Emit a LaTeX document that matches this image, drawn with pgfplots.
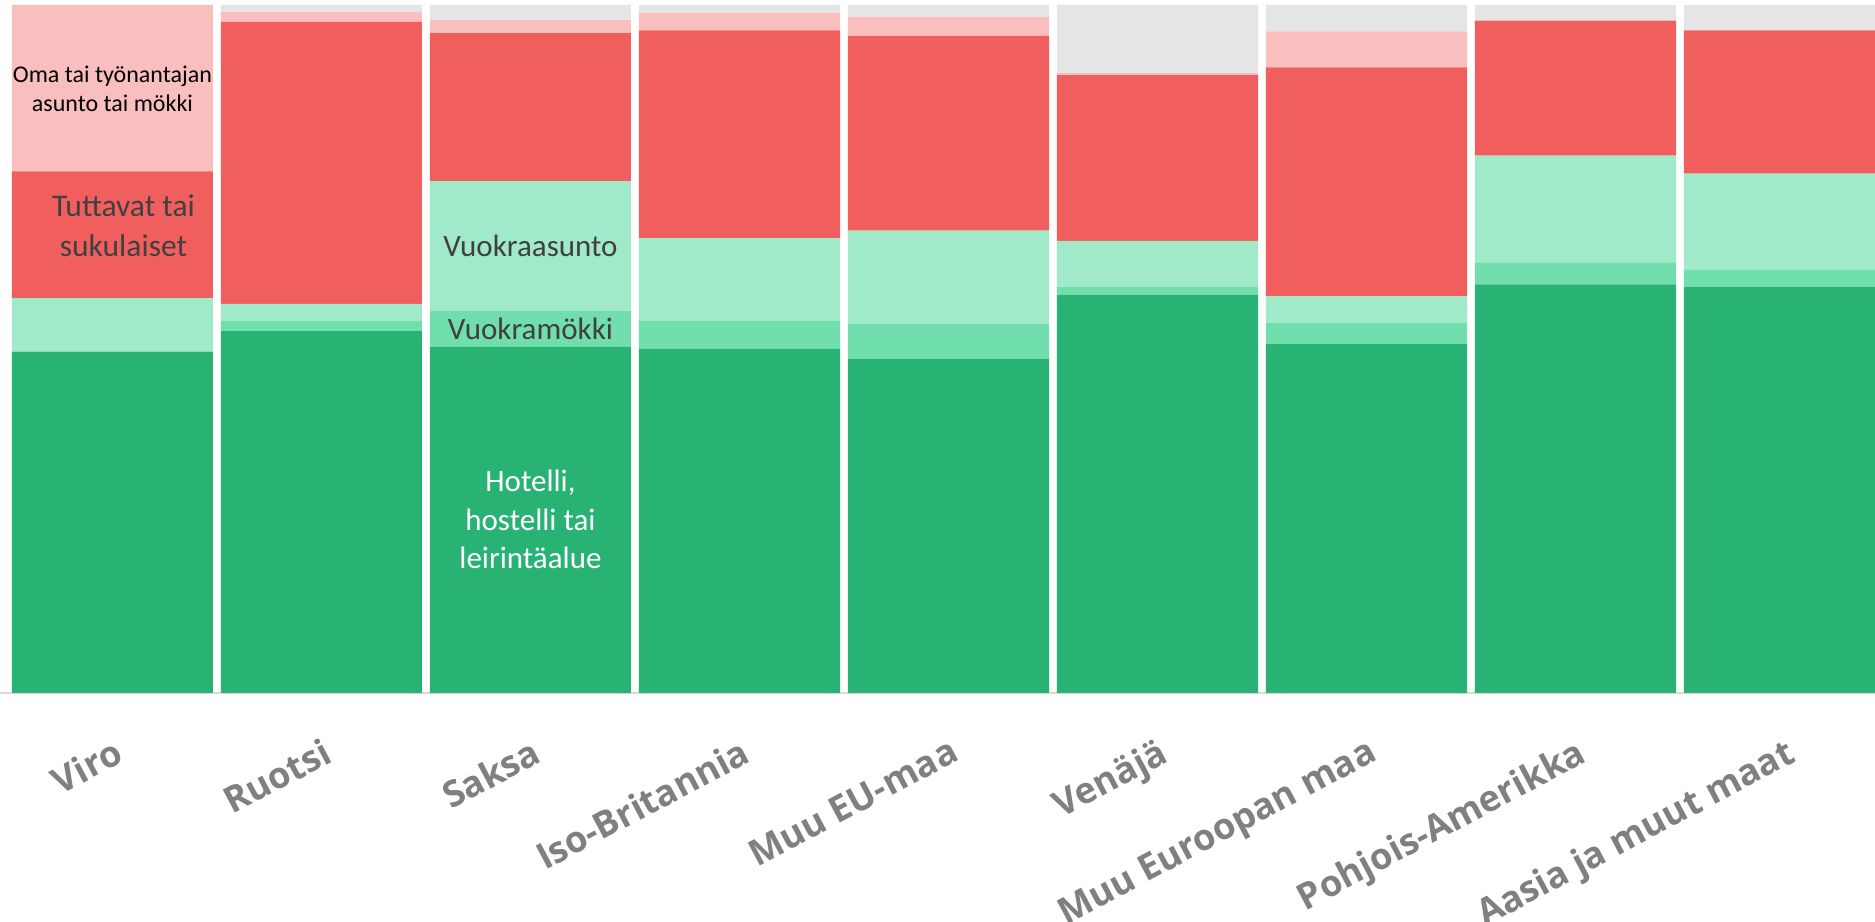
\documentclass[border=0pt]{standalone}
\usepackage{fontspec}
\setmainfont{Carlito}
\newfontfamily\labelfont{Open Sans}
\usepackage{pgfplots}
\usepackage{pgfplotstable}
\pgfplotsset{compat=1.18}
\definecolor{hotel}{RGB}{40,179,117}
\definecolor{mokki}{RGB}{112,223,173}
\definecolor{asunto}{RGB}{160,234,202}
\definecolor{tuttavat}{RGB}{240,95,93}
\definecolor{oma}{RGB}{249,190,190}
\definecolor{muu}{RGB}{229,229,229}
\definecolor{labelgray}{RGB}{128,128,128}
\definecolor{textgray}{RGB}{64,64,64}
\pgfplotstableread{
x hotel mokki asunto tuttavat oma muu
0 49.6 0.0  7.8  18.4 24.2 0.0
1 52.6 1.45 2.5  41.0 1.4  1.05
2 50.3 5.2  18.9 21.5 1.9  2.2
3 50.0 4.1  12.0 30.2 2.6  1.1
4 48.6 5.1  13.5 28.3 2.8  1.7
5 57.9 1.1  6.7  24.1 0.3  9.9
6 50.7 3.05 3.9  33.3 5.2  3.85
7 59.4 3.2  15.5 19.6 0.1  2.2
8 59.0 2.5  14.0 20.8 0.0  3.7
}\datatable
\begin{document}
\begin{tikzpicture}
\begin{axis}[name=ax, scale only axis, width=750pt, height=275.2pt,
  ybar stacked, bar width=0.962, ymin=0, ymax=100, xmin=-0.538, xmax=8.433,
  enlargelimits=false,
  axis y line=none, axis x line=bottom,
  x axis line style={-, draw=black!15, line width=0.8pt},
  xtick={0,...,8},
  xticklabels={Viro,Ruotsi,Saksa,Iso-Britannia,Muu EU-maa,Venäjä,Muu Euroopan maa,Pohjois-Amerikka,Aasia ja muut maat},
  major tick length=0pt,
  xticklabel shift=17.2pt,
  xticklabel style={font=\labelfont\bfseries\fontsize{14.5}{17}\selectfont, text=labelgray, rotate=28, anchor=north east, inner sep=0pt},
]
\addplot[fill=hotel, draw=none] table[x=x,y=hotel]{\datatable};
\addplot[fill=mokki, draw=none] table[x=x,y=mokki]{\datatable};
\addplot[fill=asunto, draw=none] table[x=x,y=asunto]{\datatable};
\addplot[fill=tuttavat, draw=none] table[x=x,y=tuttavat]{\datatable};
\addplot[fill=oma, draw=none] table[x=x,y=oma]{\datatable};
\addplot[fill=muu, draw=none] table[x=x,y=muu]{\datatable};
\coordinate (t1) at (axis cs:0,88.76);
\coordinate (t2) at (axis cs:0,84.49);
\coordinate (t3) at (axis cs:0.053,69.19);
\coordinate (t4) at (axis cs:0.053,63.42);
\coordinate (t5) at (axis cs:2,63.42);
\coordinate (t6) at (axis cs:2,51.41);
\coordinate (t7) at (axis cs:2,29.26);
\coordinate (t8) at (axis cs:2,23.69);
\coordinate (t9) at (axis cs:2,18.12);
\end{axis}
\begin{scope}[every node/.style={anchor=base, inner sep=0pt}]
\node[font=\fontsize{9.6}{11.5}\selectfont, text=black] at (t1) {Oma tai työnantajan};
\node[font=\fontsize{9.6}{11.5}\selectfont, text=black] at (t2) {asunto tai mökki};
\node[font=\fontsize{12.6}{15}\selectfont, text=textgray] at (t3) {Tuttavat tai};
\node[font=\fontsize{12.6}{15}\selectfont, text=textgray] at (t4) {sukulaiset};
\node[font=\fontsize{12.4}{15}\selectfont, text=textgray] at (t5) {Vuokraasunto};
\node[font=\fontsize{12.4}{15}\selectfont, text=textgray] at (t6) {Vuokramökki};
\node[font=\fontsize{12.4}{15}\selectfont, text=white] at (t7) {Hotelli,};
\node[font=\fontsize{12.4}{15}\selectfont, text=white] at (t8) {hostelli tai};
\node[font=\fontsize{12.4}{15}\selectfont, text=white] at (t9) {leirintäalue};
\end{scope}
\pgfresetboundingbox
\path[use as bounding box] ([yshift=-91.6pt]ax.south west) rectangle ([yshift=2pt]ax.north east);
\end{tikzpicture}
\end{document}
